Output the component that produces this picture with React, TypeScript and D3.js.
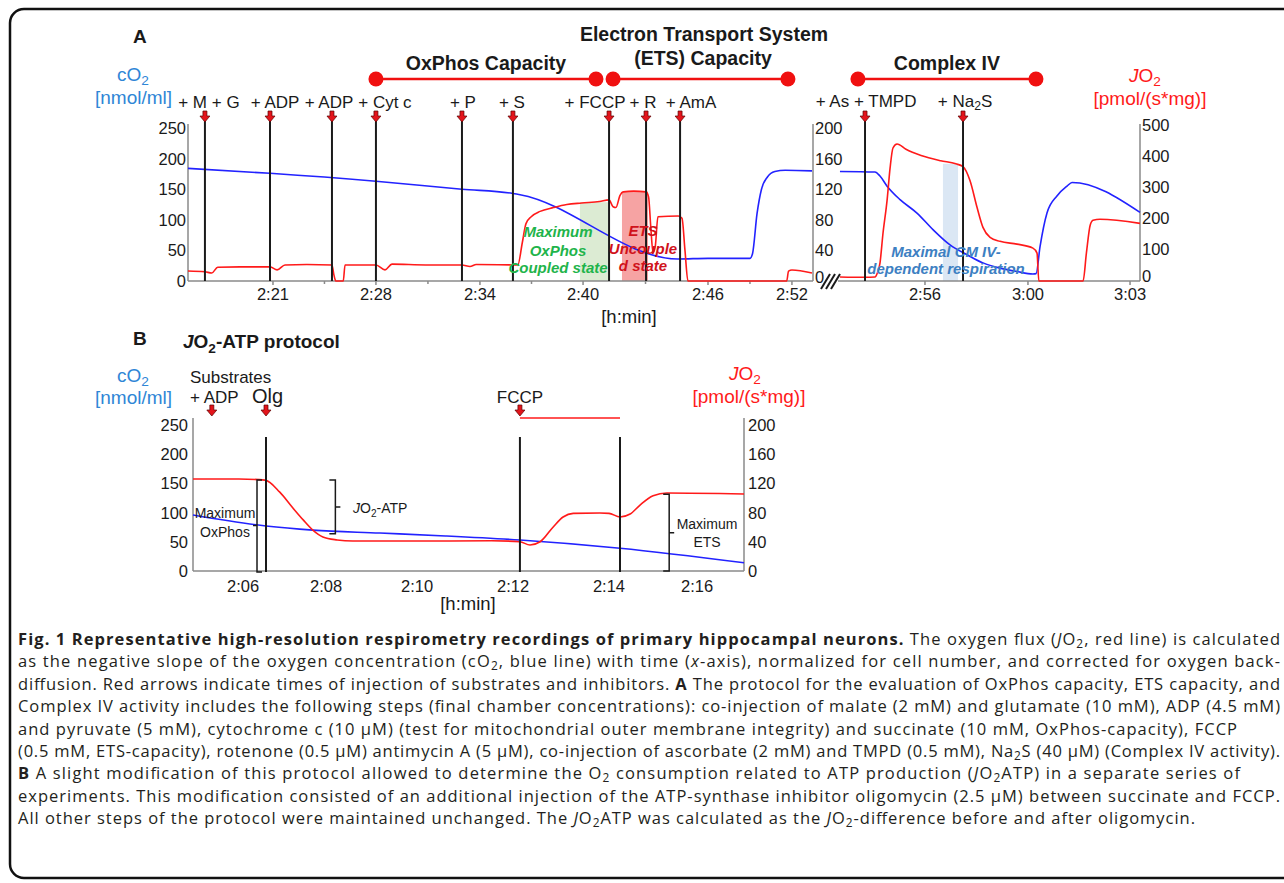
import React from 'react'
import * as d3 from 'd3'

// ---- Panel A, left recording (x = minutes along the drawn axis) ----
const aTickT = [5.72, 12.65, 19.65, 26.59, 35.0, 40.65]
const aTickLabels = ['2:21', '2:28', '2:34', '2:40', '2:46', '2:52']
const aEventT = [1.14, 5.52, 9.69, 12.65, 18.44, 21.87, 28.34, 30.83, 33.12]
const aEventLabels = ['+ M + G', '+ ADP', '+ ADP', '+ Cyt c', '+ P', '+ S', '+ FCCP', '+ R', '+ AmA']
const aO2 = [
  [0, 184], [5.52, 176], [12.65, 163], [18.44, 150], [21.87, 143], [22.35, 141], [32.98, 36], [35, 37],
  [37.83, 37], [38.0, 45], [38.3, 110], [38.6, 150], [39.0, 170], [39.5, 179], [40.2, 181], [42, 180],
]
const aJO2 = [
  [0, 13], [1.14, 12], [1.6, 10.5], [2.0, 18], [3.5, 18.5], [5.52, 18.5], [6.0, 14.5], [6.53, 21], [8, 21.5],
  [9.69, 21], [9.82, 8], [9.95, 0], [10.45, 0], [10.57, 21], [12.65, 21], [13.26, 14.5], [13.73, 22], [16, 21],
  [18.44, 21], [18.98, 19], [19.4, 21.5], [22.2, 21], [22.5, 50], [22.75, 75], [23.1, 84], [23.7, 91],
  [24.6, 96], [25.5, 100], [26.5, 102], [27.7, 104], [28.34, 106], [28.61, 97], [28.8, 96], [29.08, 112],
  [29.3, 116.5], [30.0, 117.5], [30.83, 116.5], [31.0, 110], [31.15, 70], [31.3, 37], [31.45, 45], [31.63, 84],
  [33.0, 85], [33.25, 82], [33.45, 40], [33.65, 0], [40.3, 0], [40.42, 13], [40.65, 14.4], [42, 10.5],
]
// shaded states: [start, end, top JO2]
const aGreen = [26.38, 28.27, 103]
const aPink = [29.21, 30.96, 117]

// ---- Panel A, right recording (Complex IV) ----
const rTickT = [5.76, 12.58, 19.34]
const rTickLabels = ['2:56', '3:00', '3:03']
const rEventT = [1.79, 8.28]
const rEventLabels = ['+ As + TMPD', '+ Na₂S']
const rO2 = [
  [0.13, 179], [2.45, 178], [2.78, 171.5], [3.25, 155], [4.11, 133], [5.23, 111], [6.29, 84], [7.42, 59],
  [8.54, 43], [9.6, 29.6], [10.73, 21], [11.85, 15.4], [12.91, 11.5], [13.12, 12], [13.38, 56], [13.84, 111],
  [14.5, 139], [15.17, 155], [15.5, 161], [20, 112],
]
const rJO2 = [
  [0.13, 13], [1.79, 12], [2.45, 13], [2.6, 25], [2.78, 58], [2.98, 154], [3.25, 260], [3.45, 365], [3.64, 429],
  [3.91, 442], [4.5, 425], [5.5, 405], [6.8, 388], [7.8, 378], [8.28, 369], [8.74, 324], [9.21, 237], [9.6, 173],
  [10.07, 141], [10.73, 128], [11.85, 119], [12.91, 106], [13.18, 90], [13.3, 0], [16.23, 0], [16.45, 90],
  [16.7, 180], [16.89, 196], [17.35, 199], [20, 186],
]
const rBlue = [6.95, 7.95, 378]

// protocol phases (bars on top)
const phaseNames = ['OxPhos Capacity', 'ETS', 'Complex IV']
const phaseA = [[12.65, 27.46], [28.61, 40.38]]
const phaseR = [[1.32, 13.11]]

// ---- Panel B ----
const bTickT = [1.09, 2.9, 4.88, 6.97, 9.06, 10.98]
const bTickLabels = ['2:06', '2:08', '2:10', '2:12', '2:14', '2:16']
const bEventT = [1.59, 7.12, 9.3]
const bArrowT = [0.41, 1.59, 7.12]
const bO2 = [[0, 96], [1.59, 77], [2.61, 70], [4.07, 65], [5.5, 60], [7.12, 53], [9.3, 39], [12, 14]]
const bJO2 = [
  [0, 126], [1.0, 126], [1.57, 124.5], [1.89, 108], [2.18, 86], [2.4, 70], [2.61, 56], [2.83, 46.6], [3.14, 42.5],
  [3.48, 41], [5, 41], [6.5, 41.5], [7.12, 40], [7.34, 35.6], [7.56, 40], [7.84, 60], [8.06, 74], [8.28, 79],
  [8.86, 79.5], [9.06, 79], [9.3, 74], [9.52, 78], [9.73, 90], [10.02, 103], [10.32, 106.8], [12, 105.5],
]

const o2Ticks = [0, 50, 100, 150, 200, 250]
const jTicks200 = [0, 40, 80, 120, 160, 200]
const jTicks500 = [0, 100, 200, 300, 400, 500]

const caption = [
  '**Fig. 1 Representative high-resolution respirometry recordings of primary hippocampal neurons.** The oxygen flux (|J|O₂, red line) is calculated',
  'as the negative slope of the oxygen concentration (cO₂, blue line) with time (|x|-axis), normalized for cell number, and corrected for oxygen back-',
  'diffusion. Red arrows indicate times of injection of substrates and inhibitors. **A** The protocol for the evaluation of OxPhos capacity, ETS capacity, and',
  'Complex IV activity includes the following steps (final chamber concentrations): co-injection of malate (2 mM) and glutamate (10 mM), ADP (4.5 mM)',
  'and pyruvate (5 mM), cytochrome c (10 μM) (test for mitochondrial outer membrane integrity) and succinate (10 mM, OxPhos-capacity), FCCP',
  '(0.5 mM, ETS-capacity), rotenone (0.5 μM) antimycin A (5 μM), co-injection of ascorbate (2 mM) and TMPD (0.5 mM), Na₂S (40 μM) (Complex IV activity).',
  '**B** A slight modification of this protocol allowed to determine the O₂ consumption related to ATP production (|J|O₂ATP) in a separate series of',
  'experiments. This modification consisted of an additional injection of the ATP-synthase inhibitor oligomycin (2.5 μM) between succinate and FCCP.',
  'All other steps of the protocol were maintained unchanged. The |J|O₂ATP was calculated as the |J|O₂-difference before and after oligomycin.',
]
const captionEnd = [1280, 1280, 1280, 1280, 1237, 1280, 1240, 1280, 1195]

const W = 1284
const H = 883
const FONT = '"Liberation Sans", Arial, Helvetica, sans-serif'
const RED = '#ff1a1a'
const BLUE = '#2222ff'
const LBLUE = '#2f86d6'
const AXIS = '#8a8a8a'
const INK = '#1a1a1a'

const xA = d3.scaleLinear().domain([0, 42]).range([188, 812])
const xR = d3.scaleLinear().domain([0, 20]).range([838, 1140])
const xB = d3.scaleLinear().domain([0, 12]).range([193, 744])
const yO2A = d3.scaleLinear().domain([0, 250]).range([281, 128])
const yJA = d3.scaleLinear().domain([0, 200]).range([281, 128])
const yJR = d3.scaleLinear().domain([0, 500]).range([281, 126])
const yO2B = d3.scaleLinear().domain([0, 250]).range([571, 425])
const yJB = d3.scaleLinear().domain([0, 200]).range([571, 425])

const mk = (x: any, y: any) =>
  d3.line<number[]>().x(d => x(d[0])).y(d => y(d[1])).curve(d3.curveMonotoneX)

// tiny markup: **bold**, |italic|, ₂ subscript
function Rich({ s, fs, shift = 4 }: { s: string; fs: number; shift?: number }) {
  const parts = s.split(/(\*\*[^*]+\*\*|\|[^|]+\||₂)/).filter(Boolean)
  let low = false
  return (
    <>
      {parts.map((p, i) => {
        if (p === '₂') {
          low = true
          return <tspan key={i} dy={shift} fontSize={fs * 0.72}>2</tspan>
        }
        const dy = low ? -shift : undefined
        low = false
        if (p.startsWith('**')) return <tspan key={i} dy={dy} fontWeight="bold">{p.slice(2, -2)}</tspan>
        if (p.startsWith('|')) return <tspan key={i} dy={dy} fontStyle="italic">{p.slice(1, -1)}</tspan>
        return <tspan key={i} dy={dy}>{p}</tspan>
      })}
    </>
  )
}

function Arrow({ x, y }: { x: number; y: number }) {
  const d = `M${x - 2},${y} H${x + 2} V${y + 5} H${x + 5} L${x},${y + 11} L${x - 5},${y + 5} H${x - 2} Z`
  return <path d={d} fill="#e3141b" stroke="#5a0000" strokeWidth={0.7} />
}

function PhaseBar({ x1, x2 }: { x1: number; x2: number }) {
  return (
    <g>
      <line x1={x1} x2={x2} y1={79} y2={79} stroke="#f01010" strokeWidth={2.5} />
      <circle cx={x1} cy={79} r={7.5} fill="#f01010" />
      <circle cx={x2} cy={79} r={7.5} fill="#f01010" />
    </g>
  )
}

export default function App() {
  const aLabelDx = [4, 5, -3, 9, 1, -1, -14, -3, 11]
  const rLabelDx = [1, 2]

  return (
    <div style={{ width: W, height: H, background: '#fff' }}>
      <style>{'body{margin:0}'}</style>
      <svg width={W} height={H} viewBox={`0 0 ${W} ${H}`} style={{ display: 'block', fontFamily: FONT }}>
        <rect x={10} y={9} width={1300} height={869} rx={14} fill="none" stroke="#111" strokeWidth={2.5} />

        {/* ---------------- Panel A ---------------- */}
        <text x={133} y={43} fontSize={19} fontWeight="bold" fill={INK}>A</text>
        <text x={704} y={41} fontSize={19.5} fontWeight="bold" textAnchor="middle" fill={INK}>Electron Transport System</text>
        <text x={703} y={65} fontSize={19.5} fontWeight="bold" textAnchor="middle" fill={INK}>(ETS) Capacity</text>
        <text x={(xA(phaseA[0][0]) + xA(phaseA[0][1])) / 2} y={70} fontSize={19.5} fontWeight="bold" textAnchor="middle" fill={INK}>{phaseNames[0]}</text>
        <text x={(xR(phaseR[0][0]) + xR(phaseR[0][1])) / 2} y={70} fontSize={19.5} fontWeight="bold" textAnchor="middle" fill={INK}>{phaseNames[2]}</text>
        {phaseA.map((p, i) => <PhaseBar key={i} x1={xA(p[0])} x2={xA(p[1])} />)}
        {phaseR.map((p, i) => <PhaseBar key={i} x1={xR(p[0])} x2={xR(p[1])} />)}

        <text x={117} y={81} fontSize={19} fill={LBLUE}><Rich s="cO₂" fs={19} shift={4} /></text>
        <text x={95} y={104} fontSize={19} fill={LBLUE}>[nmol/ml]</text>
        <text x={1145} y={82} fontSize={19} fill={RED} textAnchor="middle"><Rich s="|J|O₂" fs={19} shift={4} /></text>
        <text x={1150} y={105} fontSize={19} fill={RED} textAnchor="middle">[pmol/(s*mg)]</text>

        {/* shaded states */}
        <rect x={xA(aGreen[0])} width={xA(aGreen[1]) - xA(aGreen[0])} y={yJA(aGreen[2])} height={yJA(0) - yJA(aGreen[2])} fill="#dcebd3" />
        <rect x={xA(aPink[0])} width={xA(aPink[1]) - xA(aPink[0])} y={yJA(aPink[2])} height={yJA(0) - yJA(aPink[2])} fill="#f6a3a3" />
        <rect x={xR(rBlue[0])} width={xR(rBlue[1]) - xR(rBlue[0])} y={yJR(rBlue[2])} height={yJR(0) - yJR(rBlue[2])} fill="#dbe7f4" />

        {/* axes A */}
        <g stroke={AXIS} strokeWidth={1.5}>
          <line x1={188} x2={188} y1={124} y2={281} />
          <line x1={188} x2={813} y1={281} y2={281} />
          <line x1={813} x2={813} y1={124} y2={281} />
          <line x1={838} x2={1140} y1={281} y2={281} />
          <line x1={1140} x2={1140} y1={124} y2={281} />
          {aTickT.map((t, i) => <line key={i} x1={xA(t)} x2={xA(t)} y1={281} y2={285} />)}
          {aTickT.slice(0, -1).map((t, i) => <line key={'m' + i} x1={xA((t + aTickT[i + 1]) / 2)} x2={xA((t + aTickT[i + 1]) / 2)} y1={281} y2={284} />)}
          {rTickT.map((t, i) => <line key={'r' + i} x1={xR(t)} x2={xR(t)} y1={281} y2={285} />)}
        </g>
        <g fontSize={16.5} fill={INK}>
          {o2Ticks.map(v => <text key={v} x={186} y={yO2A(v)} dy="0.36em" textAnchor="end">{v}</text>)}
          {jTicks200.map(v => <text key={v} x={815} y={yJA(v)} dy={v === 0 ? '0.1em' : '0.36em'}>{v}</text>)}
          {jTicks500.map(v => <text key={v} x={1142} y={yJR(v)} dy={v === 0 ? '0.05em' : '0.3em'}>{v}</text>)}
          {aTickT.map((t, i) => <text key={i} x={xA(t)} y={300} textAnchor="middle">{aTickLabels[i]}</text>)}
          {rTickT.map((t, i) => <text key={i} x={xR(t)} y={300} textAnchor="middle">{rTickLabels[i]}</text>)}
        </g>
        <text x={629} y={323} fontSize={18.5} textAnchor="middle" fill={INK}>[h:min]</text>
        <g stroke={INK} strokeWidth={2}>
          <line x1={821} y1={289} x2={830} y2={274} />
          <line x1={826} y1={289} x2={835} y2={274} />
          <line x1={831} y1={289} x2={840} y2={274} />
        </g>

        {/* traces A */}
        <path d={mk(xA, yO2A)(aO2) || ''} fill="none" stroke={BLUE} strokeWidth={1.6} />
        <path d={mk(xA, yJA)(aJO2) || ''} fill="none" stroke={RED} strokeWidth={1.6} />
        <path d={mk(xR, yO2A)(rO2) || ''} fill="none" stroke={BLUE} strokeWidth={1.6} />
        <path d={mk(xR, yJR)(rJO2) || ''} fill="none" stroke={RED} strokeWidth={1.6} />

        {/* injections A */}
        {aEventT.map((t, i) => (
          <g key={i}>
            <line x1={xA(t)} x2={xA(t)} y1={118} y2={281} stroke={INK} strokeWidth={2} />
            <Arrow x={xA(t)} y={111} />
            <text x={xA(t) + aLabelDx[i]} y={108} fontSize={17} textAnchor="middle" fill={INK}>{aEventLabels[i]}</text>
          </g>
        ))}
        {rEventT.map((t, i) => (
          <g key={i}>
            <line x1={xR(t)} x2={xR(t)} y1={118} y2={281} stroke={INK} strokeWidth={2} />
            <Arrow x={xR(t)} y={111} />
            <text x={xR(t) + rLabelDx[i]} y={107} fontSize={17} textAnchor="middle" fill={INK}><Rich s={rEventLabels[i]} fs={17} shift={3} /></text>
          </g>
        ))}

        {/* state annotations */}
        <g fontSize={15} fontWeight="bold" fontStyle="italic" textAnchor="middle">
          <text x={558} y={237} fill="#1fb44b">Maximum</text>
          <text x={558} y={256} fill="#1fb44b">OxPhos</text>
          <text x={558} y={273} fill="#1fb44b">Coupled state</text>
          <text x={643} y={236} fill="#d0121b">ETS</text>
          <text x={643} y={254} fill="#d0121b">Uncouple</text>
          <text x={643} y={271} fill="#d0121b">d state</text>
          <text x={946} y={257} fill="#3d80c2">Maximal CM IV-</text>
          <text x={946} y={274} fill="#3d80c2">dependent respiration</text>
        </g>

        {/* ---------------- Panel B ---------------- */}
        <text x={133} y={345} fontSize={19} fontWeight="bold" fill={INK}>B</text>
        <text x={183} y={348} fontSize={19} fontWeight="bold" fill={INK}><Rich s="|J|O₂-ATP protocol" fs={19} shift={5} /></text>
        <text x={117} y={382} fontSize={19} fill={LBLUE}><Rich s="cO₂" fs={19} shift={4} /></text>
        <text x={95} y={404} fontSize={19} fill={LBLUE}>[nmol/ml]</text>
        <text x={745} y={380} fontSize={19} fill={RED} textAnchor="middle"><Rich s="|J|O₂" fs={19} shift={4} /></text>
        <text x={749} y={403} fontSize={19} fill={RED} textAnchor="middle">[pmol/(s*mg)]</text>
        <text x={190} y={383} fontSize={17} fill={INK}>Substrates</text>
        <text x={190} y={403} fontSize={17} fill={INK}>+ ADP</text>
        <text x={252} y={403} fontSize={20} fill={INK}>Olg</text>
        <text x={xB(bEventT[1])} y={403} fontSize={17} textAnchor="middle" fill={INK}>FCCP</text>
        {bArrowT.map((t, i) => <Arrow key={i} x={xB(t)} y={405} />)}
        <line x1={xB(bEventT[1])} x2={xB(bEventT[2])} y1={418} y2={418} stroke={RED} strokeWidth={1.5} />

        <g stroke={AXIS} strokeWidth={1.5}>
          <line x1={193} x2={193} y1={418} y2={571} />
          <line x1={193} x2={744} y1={571} y2={571} />
          <line x1={744} x2={744} y1={418} y2={571} />
        </g>
        <g fontSize={16.5} fill={INK}>
          {o2Ticks.map(v => <text key={v} x={188} y={yO2B(v)} dy="0.36em" textAnchor="end">{v}</text>)}
          {jTicks200.map(v => <text key={v} x={748} y={yJB(v)} dy="0.36em">{v}</text>)}
          {bTickT.map((t, i) => <text key={i} x={xB(t)} y={592} textAnchor="middle">{bTickLabels[i]}</text>)}
        </g>
        <text x={468} y={610} fontSize={18.5} textAnchor="middle" fill={INK}>[h:min]</text>

        <path d={mk(xB, yO2B)(bO2) || ''} fill="none" stroke={BLUE} strokeWidth={1.6} />
        <path d={mk(xB, yJB)(bJO2) || ''} fill="none" stroke={RED} strokeWidth={1.6} />
        {bEventT.map((t, i) => (
          <line key={i} x1={xB(t)} x2={xB(t)} y1={437} y2={572} stroke={INK} strokeWidth={2} />
        ))}

        {/* brackets */}
        <g stroke={INK} strokeWidth={1.5} fill="none">
          <path d={`M${xB(bEventT[0]) - 4},${yJB(124.5)} H${xB(bEventT[0]) - 9} V${yJB(0) + 1} H${xB(bEventT[0]) - 4} M${xB(bEventT[0]) - 9},${(yJB(124.5) + yJB(0)) / 2} H${xB(bEventT[0]) - 13}`} />
          <path d={`M${xB(2.97)},${yJB(124.5)} H${xB(2.97) + 6} V${yJB(51)} H${xB(2.97)} M${xB(2.97) + 6},${(yJB(124.5) + yJB(51)) / 2} H${xB(2.97) + 11}`} />
          <path d={`M${xB(10.24)},${yJB(105)} H${xB(10.24) + 6} V${yJB(0)} H${xB(10.24)} M${xB(10.24) + 6},${(yJB(105) + yJB(0)) / 2} H${xB(10.24) + 11}`} />
        </g>
        <g fontSize={14} fill={INK}>
          <text x={225} y={518} textAnchor="middle">Maximum</text>
          <text x={225} y={537} textAnchor="middle">OxPhos</text>
          <text x={353} y={513}><Rich s="|J|O₂-ATP" fs={14} /></text>
          <text x={707} y={529} textAnchor="middle">Maximum</text>
          <text x={707} y={547} textAnchor="middle">ETS</text>
        </g>

        {/* ---------------- caption ---------------- */}
        <g fontFamily='"Open Sans", "Liberation Sans", sans-serif' fontSize={16.5} fill="#231f20">
          {caption.map((s, i) => (
            <text key={i} x={18} y={645 + i * 22.4} textLength={captionEnd[i] - 18} lengthAdjust="spacing">
              <Rich s={s} fs={16.5} shift={3} />
            </text>
          ))}
        </g>
      </svg>
    </div>
  )
}
